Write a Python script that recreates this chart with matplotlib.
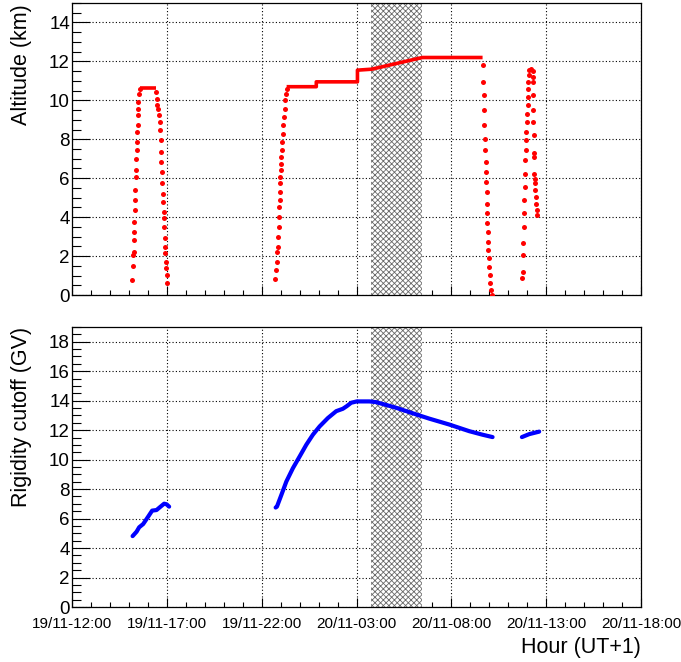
import numpy as np
import matplotlib
matplotlib.use('Agg')
import matplotlib.pyplot as plt
from matplotlib.ticker import MultipleLocator, FixedLocator

plt.rcParams['font.family'] = ['Liberation Sans', 'DejaVu Sans']
plt.rcParams['hatch.linewidth'] = 0.6

## Data (time in hours after 19/11 12:00, UT+1)
# Altitude (km), climbs and descents as separate samples
asc1_t = [3.174, 3.195, 3.211, 3.247, 3.263, 3.279, 3.285, 3.300, 3.316, 3.332, 3.353,
          3.368, 3.384, 3.405, 3.421, 3.430, 3.458, 3.465, 3.474, 3.489, 3.526, 3.563]
asc1_alt = [0.77, 1.49, 2.05, 2.22, 2.82, 3.25, 3.76, 4.36, 4.87, 5.38, 6.07,
            6.41, 7.01, 7.44, 7.86, 8.38, 8.72, 9.23, 9.57, 9.91, 10.34, 10.60]
des1_t = [4.440, 4.470, 4.500, 4.540, 4.580, 4.620, 4.640, 4.668, 4.684, 4.700, 4.721, 4.737,
          4.774, 4.789, 4.826, 4.842, 4.858, 4.879, 4.895, 4.911, 4.932, 4.947, 4.984, 5.000]
des1_alt = [10.43, 10.09, 9.74, 9.57, 9.23, 8.89, 8.46, 7.95, 7.35, 6.84, 6.32, 5.73,
            5.21, 4.79, 4.27, 3.93, 3.50, 2.91, 2.48, 2.14, 1.71, 1.37, 1.03, 0.60]
asc2_t = [10.700, 10.753, 10.789, 10.826, 10.858, 10.879, 10.895, 10.911, 10.932, 10.947,
          10.963, 10.970, 10.984, 11.000, 11.016, 11.037, 11.053, 11.068, 11.105, 11.142,
          11.174, 11.211, 11.247, 11.279, 11.316]
asc2_alt = [0.80, 1.28, 1.71, 2.22, 2.48, 2.99, 3.50, 4.02, 4.53, 4.87,
            5.30, 5.73, 6.07, 6.41, 6.75, 7.09, 7.44, 7.86, 8.29, 8.72,
            9.15, 9.57, 10.00, 10.34, 10.60]
des2_t = [21.647, 21.684, 21.721, 21.730, 21.737, 21.774, 21.789, 21.805, 21.826, 21.842,
          21.858, 21.879, 21.885, 21.895, 21.911, 21.932, 21.947, 21.963, 21.984, 22.016,
          22.053, 22.105, 22.142]
des2_alt = [11.79, 10.94, 10.26, 9.49, 8.72, 8.03, 7.44, 6.84, 6.32, 5.81,
            5.30, 4.70, 4.19, 3.68, 3.25, 2.74, 2.31, 1.88, 1.45, 1.03,
            0.60, 0.26, 0.00]
asc3_t = [23.721, 23.753, 23.789, 23.795, 23.805, 23.826, 23.842, 23.858, 23.879, 23.895, 23.911,
          23.932, 23.963, 23.984, 24.000, 24.016, 24.037, 24.053, 24.068, 24.089, 24.121, 24.195]
asc3_alt = [0.85, 1.20, 2.05, 2.65, 3.50, 4.19, 4.87, 5.55, 6.24, 6.92, 7.44,
            7.95, 8.38, 8.89, 9.32, 9.74, 10.17, 10.60, 10.94, 11.28, 11.54, 11.59]
des3_t = [24.290, 24.300, 24.310, 24.315, 24.320, 24.330, 24.335, 24.353, 24.368,
          24.384, 24.405, 24.421, 24.437, 24.458, 24.474, 24.510, 24.526]
des3_alt = [11.50, 11.20, 10.94, 10.26, 9.49, 8.89, 8.21, 7.27, 7.09,
            6.24, 5.98, 5.73, 5.38, 5.04, 4.70, 4.36, 4.10]
# cruise legs (dense samples, drawn as a continuous trace)
cruise1_t = [3.563, 4.440]
cruise1_alt = [10.65, 10.65]
cruise2_t = [11.316, 12.88, 12.88, 15.05, 15.05, 15.80, 18.47, 21.647]
cruise2_alt = [10.70, 10.70, 10.95, 10.95, 11.55, 11.60, 12.20, 12.20]

# Rigidity cutoff (GV)
rc1_t = [3.195, 3.405, 3.542, 3.753, 4.016, 4.226, 4.458, 4.632, 4.858, 4.984, 5.121]
rc1_val = [4.81, 5.11, 5.41, 5.63, 6.13, 6.54, 6.58, 6.77, 7.01, 6.97, 6.81]
rc2_t = [10.737, 10.805, 11.037, 11.300, 11.647, 12.000, 12.353, 12.700, 13.053, 13.489,
         13.932, 14.279, 14.489, 14.721, 15.016, 15.332, 15.684, 16.037, 17.089, 18.142,
         18.842, 19.895, 20.947, 21.647, 22.174]
rc2_val = [6.75, 6.81, 7.60, 8.51, 9.42, 10.21, 11.01, 11.69, 12.25, 12.82,
           13.29, 13.45, 13.63, 13.86, 13.95, 13.95, 13.95, 13.90, 13.52, 13.07,
           12.78, 12.38, 11.93, 11.69, 11.53]
rc3_t = [23.721, 24.105, 24.632]
rc3_val = [11.53, 11.73, 11.90]

# shaded interval
band = (15.79, 18.47)

tick_hours = [0, 5, 10, 15, 20, 25, 30]
tick_labels = ['19/11-12:00', '19/11-17:00', '19/11-22:00', '20/11-03:00',
               '20/11-08:00', '20/11-13:00', '20/11-18:00']

W, H = 681, 662
fig = plt.figure(figsize=(W / 100, H / 100), dpi=100)
ax1 = fig.add_axes([72 / W, 1 - 295 / H, (641 - 72) / W, (295 - 3) / H])
ax2 = fig.add_axes([72 / W, 1 - 607 / H, (641 - 72) / W, (607 - 327) / H])


def style(ax, ymax):
    ax.set_xlim(0, 30)
    ax.set_ylim(0, ymax)
    ax.xaxis.set_major_locator(FixedLocator(tick_hours))
    ax.xaxis.set_minor_locator(MultipleLocator(1))
    ax.yaxis.set_major_locator(MultipleLocator(2))
    ax.yaxis.set_minor_locator(MultipleLocator(0.5))
    ax.tick_params(axis='y', which='major', direction='in', length=13, width=0.8,
                   labelsize=13.5, pad=1.5)
    ax.tick_params(axis='y', which='minor', direction='in', length=6.5, width=0.8)
    ax.tick_params(axis='x', which='major', direction='in', length=6.5, width=0.8,
                   labelsize=11, pad=7)
    ax.tick_params(axis='x', which='minor', direction='in', length=3.3, width=0.8)
    ax.grid(True, which='major', color='black', linestyle=(0, (1, 2)), linewidth=0.8)
    ax.set_axisbelow(True)
    for s in ax.spines.values():
        s.set_linewidth(0.9)
    ax.axvspan(band[0], band[1], facecolor='white', edgecolor='#6a6a6a',
               hatch='xxxxxx', linewidth=0, zorder=1.5)


style(ax1, 15)
style(ax2, 19)

red = '#ff0000'
mk = dict(marker='o', linestyle='none', markersize=3.6, color=red,
          markeredgewidth=0, zorder=3)
for t, a in [(asc1_t, asc1_alt), (des1_t, des1_alt), (asc2_t, asc2_alt),
             (des2_t, des2_alt), (asc3_t, asc3_alt), (des3_t, des3_alt)]:
    ax1.plot(t, a, **mk)
for t, a in [(cruise1_t, cruise1_alt), (cruise2_t, cruise2_alt)]:
    ax1.plot(t, a, color=red, linewidth=2.6, solid_capstyle='butt', zorder=3)

blue = '#0000ff'
for t, v in [(rc1_t, rc1_val), (rc2_t, rc2_val), (rc3_t, rc3_val)]:
    ax2.plot(t, v, color=blue, linewidth=3.0, solid_capstyle='round',
             solid_joinstyle='round', zorder=3)

ax1.set_xticklabels([])
ax2.set_xticklabels(tick_labels)

ax1.set_ylabel('Altitude (km)', fontsize=15.5, ha='center', va='center')
ax2.set_ylabel('Rigidity cutoff (GV)', fontsize=15.5, ha='center', va='center')
ax1.yaxis.set_label_coords(-50 / (641 - 72), 1 - (65 - 3) / 292)
ax2.yaxis.set_label_coords(-50 / (641 - 72), 1 - (417 - 327) / 280)
ax2.set_xlabel('Hour (UT+1)', fontsize=15.5, ha='right', va='center')
ax2.xaxis.set_label_coords(1.0, -(648 - 607) / 280)

fig.savefig('out.png', dpi=100)
